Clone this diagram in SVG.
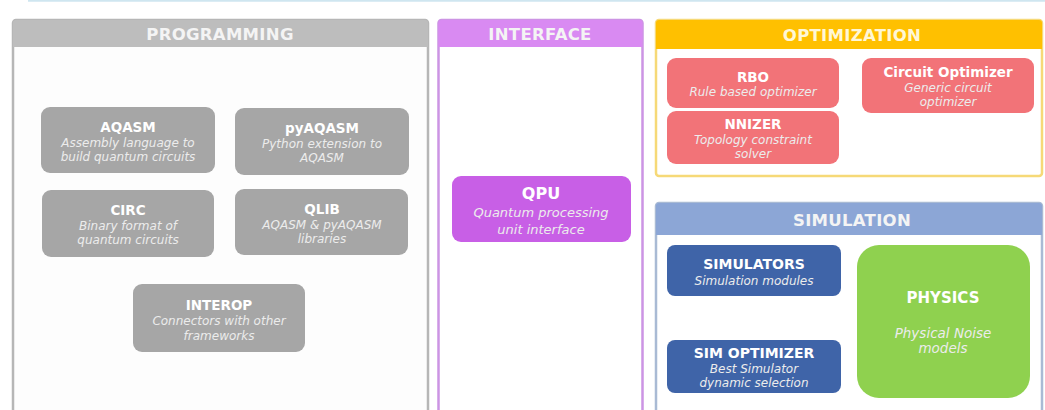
<svg xmlns="http://www.w3.org/2000/svg" width="1045" height="410" viewBox="0 0 1045 410">
<style>
.hdr{font-family:"DejaVu Sans",Verdana,sans-serif;font-weight:bold;font-size:16.5px;fill:#f4f4f4;text-anchor:middle;letter-spacing:0.3px}
.t{font-family:"DejaVu Sans",Verdana,sans-serif;font-weight:bold;font-size:13.5px;fill:#ffffff;text-anchor:middle}
.d{font-family:"DejaVu Sans",Verdana,sans-serif;font-style:italic;font-size:12px;fill:#ececec;text-anchor:middle}
</style>
<rect width="1045" height="410" fill="#ffffff"/>
<line x1="28" y1="0.8" x2="1045" y2="0.8" stroke="#cfe6f0" stroke-width="2"/>

<g id="programming">
<rect x="13" y="20" width="415" height="395" rx="3" fill="#fdfdfd" stroke="#b6b6b6" stroke-width="2.5"/>
<path d="M13 47 V23 a3 3 0 0 1 3 -3 H425 a3 3 0 0 1 3 3 V47 Z" fill="#bdbdbd"/>
<text class="hdr" x="220" y="39.5">PROGRAMMING</text>
</g>
<g id="aqasm">
<rect x="41" y="107" width="174" height="66" rx="9" fill="#a6a6a6"/>
<text class="t" x="128" y="132">AQASM</text>
<text class="d" x="128" y="146.5">Assembly language to</text>
<text class="d" x="128" y="161">build quantum circuits</text>
</g>
<g id="pyaqasm">
<rect x="235" y="108" width="174" height="67" rx="9" fill="#a6a6a6"/>
<text class="t" x="322" y="133">pyAQASM</text>
<text class="d" x="322" y="147.5">Python extension to</text>
<text class="d" x="322" y="162">AQASM</text>
</g>
<g id="circ">
<rect x="42" y="190" width="172" height="67" rx="9" fill="#a6a6a6"/>
<text class="t" x="128" y="215">CIRC</text>
<text class="d" x="128" y="229.5">Binary format of</text>
<text class="d" x="128" y="243.5">quantum circuits</text>
</g>
<g id="qlib">
<rect x="235" y="189" width="173" height="66" rx="9" fill="#a6a6a6"/>
<text class="t" x="322" y="214">QLIB</text>
<text class="d" x="322" y="228.5">AQASM &amp; pyAQASM</text>
<text class="d" x="322" y="242.5">libraries</text>
</g>
<g id="interop">
<rect x="133" y="284" width="172" height="68" rx="9" fill="#a6a6a6"/>
<text class="t" x="219" y="310">INTEROP</text>
<text class="d" x="219" y="324.5">Connectors with other</text>
<text class="d" x="219" y="339.5">frameworks</text>
</g>

<g id="interface">
<rect x="438.5" y="20" width="204" height="395" rx="3" fill="#ffffff" stroke="#cc94e4" stroke-width="2.5"/>
<path d="M438.5 47 V23 a3 3 0 0 1 3 -3 H639.5 a3 3 0 0 1 3 3 V47 Z" fill="#d98af2"/>
<text class="hdr" x="540" y="39.5">INTERFACE</text>
</g>
<g id="qpu">
<rect x="452" y="176" width="179" height="66" rx="9" fill="#c85fe6"/>
<text class="t" x="541" y="199" style="font-size:16px">QPU</text>
<text class="d" x="541" y="217" style="font-size:13px">Quantum processing</text>
<text class="d" x="541" y="234" style="font-size:13px">unit interface</text>
</g>

<g id="optimization">
<rect x="656" y="20" width="386" height="156" rx="3" fill="#ffffff" stroke="#f6d977" stroke-width="2.5"/>
<path d="M656 49 V23 a3 3 0 0 1 3 -3 H1039 a3 3 0 0 1 3 3 V49 Z" fill="#ffc000"/>
<text class="hdr" x="852" y="40.5" style="fill:#fff7d6">OPTIMIZATION</text>
</g>
<g id="rbo">
<rect x="667" y="58" width="172" height="50" rx="9" fill="#f27378"/>
<text class="t" x="753" y="82">RBO</text>
<text class="d" x="753" y="95.5">Rule based optimizer</text>
</g>
<g id="nnizer">
<rect x="667" y="111" width="172" height="53" rx="9" fill="#f27378"/>
<text class="t" x="753" y="129">NNIZER</text>
<text class="d" x="753" y="143.5">Topology constraint</text>
<text class="d" x="753" y="158">solver</text>
</g>
<g id="circuit-optimizer">
<rect x="862" y="58" width="172" height="55" rx="9" fill="#f27378"/>
<text class="t" x="948" y="77" style="font-size:13.5px">Circuit Optimizer</text>
<text class="d" x="948" y="91.5">Generic circuit</text>
<text class="d" x="948" y="105.5">optimizer</text>
</g>

<g id="simulation">
<rect x="656" y="203" width="386" height="212" rx="3" fill="#ffffff" stroke="#a9bad4" stroke-width="2.5"/>
<path d="M656 235 V206 a3 3 0 0 1 3 -3 H1039 a3 3 0 0 1 3 3 V235 Z" fill="#8ca6d6"/>
<text class="hdr" x="852" y="225.5">SIMULATION</text>
</g>
<g id="simulators">
<rect x="667" y="245" width="174" height="51" rx="8" fill="#3f64a8"/>
<text class="t" x="754" y="269" style="font-size:14px">SIMULATORS</text>
<text class="d" x="754" y="285">Simulation modules</text>
</g>
<g id="sim-optimizer">
<rect x="667" y="340" width="174" height="53" rx="8" fill="#3f64a8"/>
<text class="t" x="754" y="358" style="font-size:14px">SIM OPTIMIZER</text>
<text class="d" x="754" y="372.5">Best Simulator</text>
<text class="d" x="754" y="386.5">dynamic selection</text>
</g>
<g id="physics">
<rect x="857" y="245" width="173" height="153" rx="22" fill="#8fd14f"/>
<text class="t" x="943" y="302.5" style="font-size:15px">PHYSICS</text>
<text class="d" x="943" y="338" style="font-size:13.5px">Physical Noise</text>
<text class="d" x="943" y="353" style="font-size:13.5px">models</text>
</g>
<g id="connectors"></g>
</svg>
